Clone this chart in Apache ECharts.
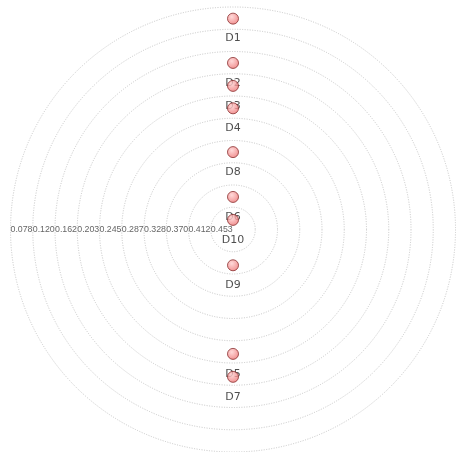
<!DOCTYPE html>
<html>
<head>
<meta charset="utf-8">
<script src="https://cdn.jsdelivr.net/npm/echarts@6/dist/echarts.min.js"></script>
<style>
html,body{margin:0;padding:0;background:#fff;}
#main{width:456px;height:452px;}
</style>
</head>
<body>
<div id="main"></div>
<script>
// Data
var names = ['D1','D2','D3','D4','D5','D6','D7','D8','D9','D10'];
var radiusValues = [0.100, 0.183, 0.226, 0.268, 0.262, 0.434, 0.219, 0.350, 0.428, 0.477];
var angleValues = [90, 90, 90, 90, 270, 90, 270, 90, 270, 90];
// Radius axis ticks (outer ring to centre): 0.078 ... 0.453
var radiusMin = 0.0782;
var radiusStep = 0.04168;
var radiusMax = 0.495;

var points = names.map(function (n, i) {
  return { name: n, value: [radiusValues[i], angleValues[i]] };
});

var chart = echarts.init(document.getElementById('main'));
chart.setOption({
  backgroundColor: '#ffffff',
  animation: false,
  polar: { center: [233, 229.5], radius: 222.5 },
  angleAxis: {
    type: 'value', min: 0, max: 360, startAngle: 180, clockwise: true,
    axisLine: { show: false }, axisTick: { show: false },
    axisLabel: { show: false }, splitLine: { show: false }
  },
  radiusAxis: {
    type: 'value', inverse: true,
    min: radiusMin, max: radiusMax, interval: radiusStep,
    axisLine: { show: false }, axisTick: { show: false },
    axisLabel: {
      showMinLabel: true, showMaxLabel: false, hideOverlap: false,
      margin: 0, align: 'left', verticalAlign: 'middle',
      color: '#666', fontSize: 8.8, fontFamily: 'Liberation Sans',
      formatter: function (v) { return v.toFixed(3); }
    },
    splitLine: { show: true, lineStyle: { color: '#c6c6c6', type: [1, 1.5], width: 1 } }
  },
  series: [
    {
      type: 'scatter', coordinateSystem: 'polar', z: 1,
      symbolSize: 1,
      data: points,
      itemStyle: { color: 'rgba(0,0,0,0)' },
      label: {
        show: true, position: 'bottom', distance: 14,
        formatter: '{b}', color: '#222', fontSize: 11, fontFamily: 'DejaVu Sans'
      }
    },
    {
      type: 'scatter', coordinateSystem: 'polar', z: 2,
      symbol: 'circle', symbolSize: 11,
      data: points,
      itemStyle: {
        color: {
          type: 'radial', x: 0.4, y: 0.35, r: 0.7,
          colorStops: [{ offset: 0, color: '#ffd0d0' }, { offset: 1, color: '#ec6e6e' }]
        },
        borderColor: '#8a3030', borderWidth: 1
      },
      label: { show: false }
    }
  ]
});
</script>
</body>
</html>
